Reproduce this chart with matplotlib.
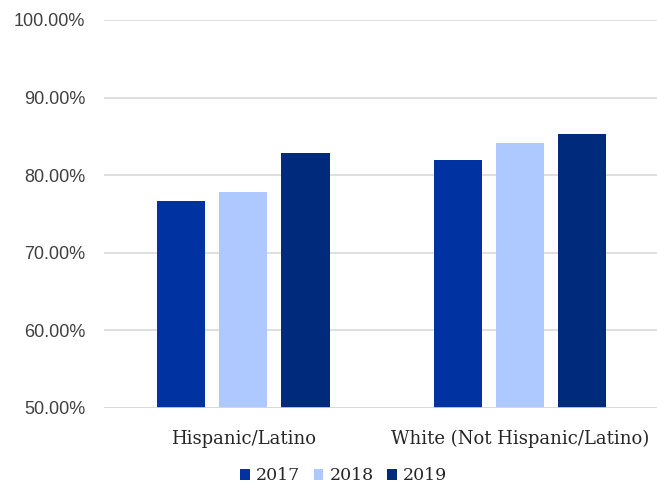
import numpy as np
import matplotlib
matplotlib.use("Agg")
import matplotlib.pyplot as plt
from matplotlib.ticker import FuncFormatter

# Share of students by group and year
groups = ["Hispanic/Latino", "White (Not Hispanic/Latino)"]
years = ["2017", "2018", "2019"]
rate_2017 = [76.7, 81.95]
rate_2018 = [77.8, 84.2]
rate_2019 = [82.8, 85.3]
colors = ["#0033a1", "#adc9ff", "#002b7c"]

fig = plt.figure(figsize=(6.57, 4.87), dpi=100)
ax = fig.add_axes([103.5 / 657, 1 - 408 / 487, 553.5 / 657, 388 / 487])

x = np.arange(len(groups))
width = 0.175
step = 0.225
for i, (vals, yr) in enumerate(zip([rate_2017, rate_2018, rate_2019], years)):
    ax.bar(x + (i - 1) * step, vals, width, color=colors[i], label=yr, zorder=3)

ax.set_ylim(50, 100)
ax.set_xlim(-0.505, 1.495)
ax.set_yticks(np.arange(50, 101, 10))
ax.yaxis.set_major_formatter(FuncFormatter(lambda v, p: f"{v:.2f}%"))
ax.grid(axis="y", color="#d9d9d9", linewidth=1.2, zorder=0)
for s in ["top", "right", "left", "bottom"]:
    ax.spines[s].set_visible(False)
ax.axhline(50, color="#d9d9d9", linewidth=1.2, zorder=4)

ax.tick_params(axis="y", length=0, pad=13, labelsize=13, labelcolor="#404040")
for lbl in ax.get_yticklabels():
    lbl.set_fontfamily("Liberation Sans")
ax.set_xticks(x)
ax.set_xticklabels(groups, fontfamily="DejaVu Serif", fontsize=13, color="#262626")
ax.tick_params(axis="x", length=0, pad=16)

leg = fig.legend(loc="center", bbox_to_anchor=(0.523, 1 - 476 / 487), ncol=3,
                 frameon=False, handlelength=0.55, handleheight=0.55,
                 handletextpad=0.35, columnspacing=0.8,
                 prop={"family": "DejaVu Serif", "size": 12.5})
for t in leg.get_texts():
    t.set_color("#262626")

fig.savefig("out.png", dpi=100)
